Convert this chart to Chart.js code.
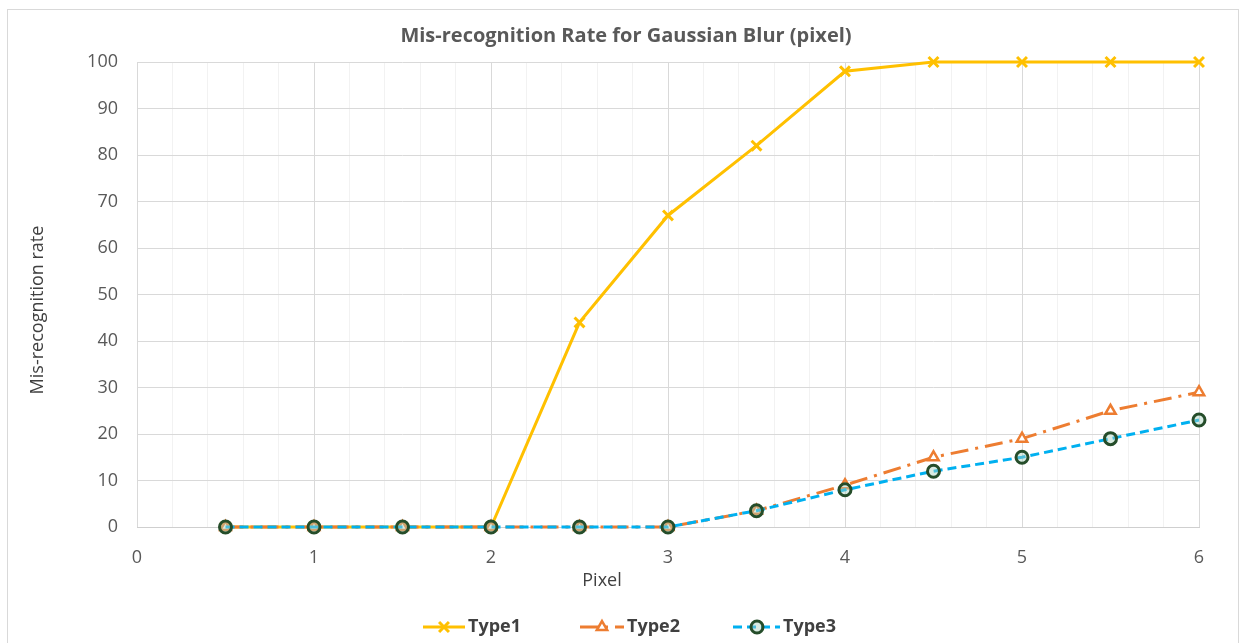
<!DOCTYPE html>
<html>
<head>
<meta charset="utf-8">
<script src="https://cdn.jsdelivr.net/npm/chart.js@4/dist/chart.umd.min.js"></script>
<style>
  body { margin: 0; background: #fff; }
</style>
</head>
<body>
<canvas id="c" width="1246" height="643"></canvas>
<script>
const pixels = [0.5, 1, 1.5, 2, 2.5, 3, 3.5, 4, 4.5, 5, 5.5, 6];
const type1 = [0, 0, 0, 0, 44, 67, 82, 98, 100, 100, 100, 100];
const type2 = [0, 0, 0, 0, 0, 0, 3.5, 9, 15, 19, 25, 29];
const type3 = [0, 0, 0, 0, 0, 0, 3.5, 8, 12, 15, 19, 23];
const seriesNames = ['Type1', 'Type2', 'Type3'];

const FONT = "'Open Sans', sans-serif";
const isInt = v => Math.abs(v - Math.round(v)) < 1e-6;
const pts = ys => pixels.map((x, i) => ({ x: x, y: ys[i] }));

// title, axis titles, legend and frame drawn on top
const extras = {
  id: 'extras',
  afterDraw(chart) {
    const ctx = chart.ctx;
    ctx.save();
    ctx.strokeStyle = '#D9D9D9';
    ctx.lineWidth = 1;
    ctx.strokeRect(7.5, 9.5, 1231, 640);

    ctx.fillStyle = '#595959';
    ctx.textAlign = 'center';
    ctx.textBaseline = 'middle';
    ctx.font = "bold 20px " + FONT;
    ctx.fillText('Mis-recognition Rate for Gaussian Blur (pixel)', 626, 36);

    ctx.fillStyle = '#404040';
    ctx.font = "18px " + FONT;
    ctx.fillText('Pixel', 602, 581);

    ctx.save();
    ctx.translate(38, 310);
    ctx.rotate(-Math.PI / 2);
    ctx.font = "18px " + FONT;
    ctx.fillText('Mis-recognition rate', 0, 0);
    ctx.restore();

    // legend
    const items = [
      { x1: 423, x2: 465, mx: 444, tx: 468 },
      { x1: 580, x2: 624, mx: 602, tx: 627 },
      { x1: 733, x2: 780, mx: 757, tx: 783 }
    ];
    const ly = 627;
    chart.data.datasets.forEach((ds, i) => {
      const it = items[i];
      ctx.save();
      ctx.strokeStyle = ds.borderColor;
      ctx.lineWidth = ds.borderWidth;
      ctx.setLineDash(ds.borderDash || []);
      ctx.beginPath();
      ctx.moveTo(it.x1, ly);
      ctx.lineTo(it.x2, ly);
      ctx.stroke();
      ctx.restore();
      ctx.save();
      ctx.fillStyle = ds.pointBackgroundColor;
      ctx.strokeStyle = ds.pointBorderColor;
      ctx.lineWidth = ds.pointBorderWidth;
      ctx.setLineDash([]);
      Chart.helpers.drawPoint(ctx, {
        pointStyle: ds.pointStyle,
        radius: ds.pointRadius,
        borderWidth: ds.pointBorderWidth,
        rotation: 0
      }, it.mx, ly);
      ctx.restore();
      ctx.fillStyle = '#404040';
      ctx.font = "bold 18px " + FONT;
      ctx.textAlign = 'left';
      ctx.textBaseline = 'middle';
      ctx.fillText(seriesNames[i], it.tx, ly);
    });
    ctx.restore();
  }
};

new Chart(document.getElementById('c'), {
  type: 'scatter',
  data: {
    datasets: [
      {
        label: seriesNames[0],
        data: pts(type1),
        showLine: true,
        borderColor: '#FFC000',
        borderWidth: 3,
        pointStyle: 'crossRot',
        pointRadius: 7,
        pointBorderWidth: 3,
        pointBorderColor: '#FFC000',
        pointBackgroundColor: '#FFC000',
        order: 2,
        clip: false
      },
      {
        label: seriesNames[1],
        data: pts(type2),
        showLine: true,
        borderColor: '#ED7D31',
        borderWidth: 3,
        borderDash: [18, 7, 3, 7],
        pointStyle: 'triangle',
        pointRadius: 6,
        pointBorderWidth: 2.5,
        pointBorderColor: '#ED7D31',
        pointBackgroundColor: '#FFFFFF',
        order: 1,
        clip: false
      },
      {
        label: seriesNames[2],
        data: pts(type3),
        showLine: true,
        borderColor: '#00B0F0',
        borderWidth: 3,
        borderDash: [9, 5],
        pointStyle: 'circle',
        pointRadius: 6,
        pointBorderWidth: 3,
        pointBorderColor: '#254D2A',
        pointBackgroundColor: 'rgba(170,210,190,0.45)',
        order: 0,
        clip: false
      }
    ]
  },
  options: {
    responsive: false,
    animation: false,
    devicePixelRatio: 1,
    layout: { padding: { top: 62, left: 30, right: 47, bottom: 54 } },
    plugins: {
      legend: { display: false },
      title: { display: false },
      tooltip: { enabled: false }
    },
    scales: {
      x: {
        type: 'linear',
        min: 0,
        max: 6,
        afterFit: s => { s.height = 62; },
        ticks: {
          stepSize: 0.2,
          autoSkip: false,
          maxRotation: 0,
          padding: 20,
          color: '#595959',
          font: { family: FONT, size: 18 },
          callback: v => isInt(v) ? String(Math.round(v)) : ''
        },
        grid: {
          drawTicks: false,
          color: c => (c.tick && isInt(c.tick.value)) ? '#D9D9D9' : '#F2F2F2',
          lineWidth: 1
        },
        border: { display: true, color: '#CFCFCF', width: 1 }
      },
      y: {
        min: 0,
        max: 100,
        afterFit: s => { s.width = 107; },
        ticks: {
          stepSize: 10,
          padding: 19,
          color: '#595959',
          font: { family: FONT, size: 18 }
        },
        grid: { drawTicks: false, color: '#D9D9D9' },
        border: { display: false }
      }
    }
  },
  plugins: [extras]
});
</script>
</body>
</html>
